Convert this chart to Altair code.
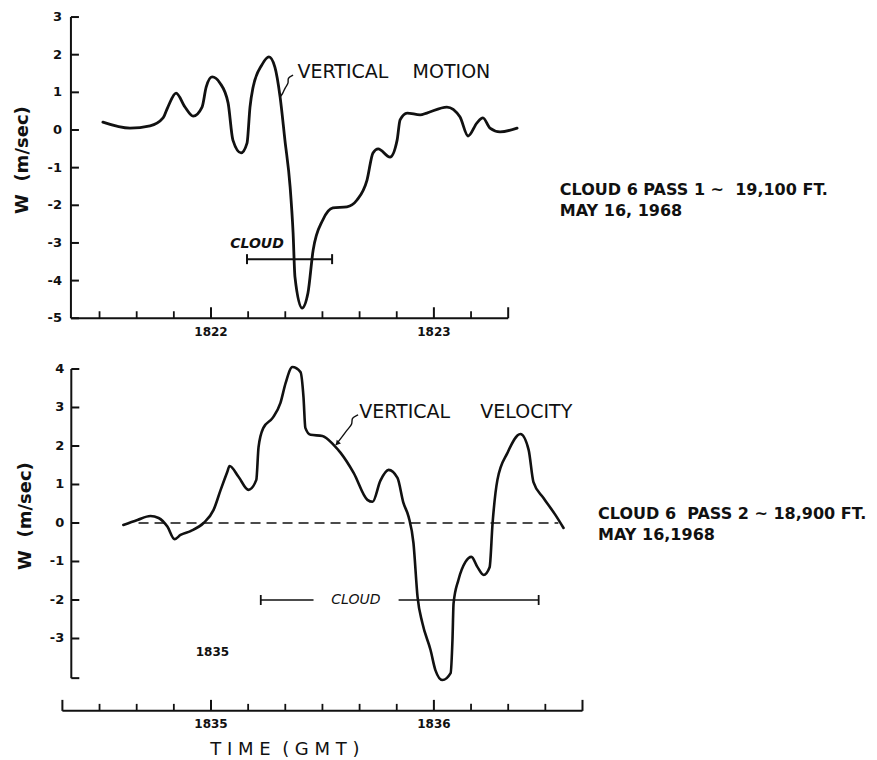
import altair as alt
import pandas as pd

# ---------------- data (seconds after the labelled minute, W in m/s) ----------------
TOP_T = [-29.1, -21.8, -16.4, -12.9, -11.6, -9.4, -7.0, -4.8, -2.4, -1.3, 0.3, 2.4, 4.6, 5.9, 8.1,
         9.7, 10.5, 11.3, 13.7, 15.6, 17.2, 18.6, 19.9, 21.3, 22.1, 22.6, 24.5, 26.1, 27.5, 30.1,
         32.8, 36.6, 39.3, 42.0, 43.6, 45.0, 48.2, 50.1, 50.9, 52.8, 56.3, 58.1, 63.5, 67.0, 69.2,
         71.6, 73.2, 75.1, 77.8, 82.4]
TOP_W = [0.21, 0.05, 0.11, 0.32, 0.61, 0.98, 0.61, 0.37, 0.61, 1.14, 1.41, 1.25, 0.72, -0.27, -0.61,
         -0.35, 0.61, 1.12, 1.73, 1.94, 1.67, 0.88, -0.27, -1.51, -2.73, -3.9, -4.73, -4.33, -3.19, -2.39,
         -2.07, -2.04, -1.86, -1.33, -0.61, -0.5, -0.72, -0.27, 0.27, 0.45, 0.40, 0.45, 0.61, 0.35, -0.16,
         0.19, 0.32, 0.05, -0.05, 0.05]

BOT_T = [-23.6, -19.8, -16.3, -14.1, -11.7, -9.8, -8.2, -5.5, -2.0, 0.7, 2.6, 4.4, 5.0, 7.4, 10.1,
         12.2, 12.8, 14.1, 16.6, 18.7, 20.1, 21.9, 24.1, 24.9, 25.4, 26.8, 30.0, 33.0, 34.9, 38.4,
         42.1, 43.5, 45.6, 47.8, 50.2, 51.8, 53.2, 54.5, 55.6, 56.9, 59.1, 60.4, 62.3, 64.5, 65.0,
         65.3, 66.6, 68.5, 70.1, 71.7, 73.4, 75.0, 75.8, 77.1, 79.8, 83.3, 85.5, 86.8, 89.5, 92.7, 94.9]
BOT_W = [-0.05, 0.08, 0.18, 0.13, -0.1, -0.42, -0.31, -0.21, 0.0, 0.34, 0.86, 1.33, 1.48, 1.2, 0.86,
         1.12, 1.97, 2.47, 2.73, 3.12, 3.64, 4.05, 3.92, 3.27, 2.47, 2.29, 2.26, 2.03, 1.82, 1.3,
         0.6, 0.55, 1.1, 1.38, 1.17, 0.52, 0.16, -0.52, -1.92, -2.6, -3.3, -3.82, -4.08, -3.9, -3.04,
         -2.08, -1.48, -1.01, -0.88, -1.14, -1.35, -1.15, 0.0, 1.12, 1.82, 2.31, 1.9, 1.06, 0.65, 0.21, -0.13]

# axes
TOP_YTICKS = [3, 2, 1, 0, -1, -2, -3, -4, -5]
BOT_YTICKS = [4, 3, 2, 1, 0, -1, -2, -3]
TOP_XTICKS = [-30, -20, -10, 10, 20, 30, 40, 50, 70]
TOP_XMAJOR = [0, 60]
TOP_XMAJOR_LABELS = ["1822", "1823"]
BOT_XTICKS = [-30, -20, -10, 10, 20, 30, 40, 50, 70, 80, 90]
BOT_XMAJOR = [0, 60]
BOT_XMAJOR_LABELS = ["1835", "1836"]
TOP_AXIS_X = [-37.7, 80]
TOP_AXIS_Y = [-5, 3]
BOT_YAXIS_X = -37.6
BOT_YAXIS_Y = [-4.03, 4]
BOT_XAXIS = [-40, 100]
BOT_XAXIS_Y = -4.88

# cloud bars
TOP_CLOUD = [9.7, 32.6]
TOP_CLOUD_W = -3.43
BOT_CLOUD_SEGS = [[13.4, 27.6], [50.5, 88.2]]
BOT_CLOUD_W = -2.0
BOT_ZERO = [-19.5, 93.5]

# leaders
TOP_LEAD_T = [22.1, 20.5, 21.0, 19.9, 19.4, 18.6]
TOP_LEAD_W = [1.46, 1.38, 1.25, 1.12, 0.98, 0.88]
BOT_LEAD_T = [39.6, 37.7, 38.2, 36.6, 35.5, 33.6]
BOT_LEAD_W = [2.81, 2.73, 2.57, 2.42, 2.26, 2.03]

NB = "\u00a0"
X_DOMAIN = [-54.64, 177.12]
TOP_Y_DOMAIN = [-5.79, 3.24]
BOT_Y_DOMAIN = [-6.156, 4.545]
W = 861
H_TOP = 340
H_BOT = 412
INK = "#111111"
FONT = "DejaVu Sans"


def sc(dom):
    return alt.Scale(domain=dom, nice=False, zero=False)


def X(f):
    return alt.X(f, type="quantitative", scale=sc(X_DOMAIN), axis=None)


def Xd(v):
    return alt.XDatum(v, type="quantitative", scale=sc(X_DOMAIN), axis=None)


def Y(f, dom):
    return alt.Y(f, type="quantitative", scale=sc(dom), axis=None)


def Yd(v, dom):
    return alt.YDatum(v, type="quantitative", scale=sc(dom), axis=None)


def text_layer(df, dom, **kw):
    base = dict(font=FONT, color=INK)
    base.update(kw)
    return alt.Chart(df).mark_text(**base).encode(x=X("x"), y=Y("y", dom), text="text:N")


# ================= TOP PANEL =================
td = TOP_Y_DOMAIN
top_curve = alt.Chart(pd.DataFrame({"t": TOP_T, "w": TOP_W})).mark_line(
    interpolate="monotone", color=INK, strokeWidth=2.8, strokeCap="round", strokeJoin="round"
).encode(x=X("t"), y=Y("w", td), order="t:Q")

top_frame = alt.Chart(pd.DataFrame({
    "x": [TOP_AXIS_X[0], TOP_AXIS_X[0]], "x2": [TOP_AXIS_X[0], TOP_AXIS_X[1]],
    "y": [TOP_AXIS_Y[0], TOP_AXIS_Y[0]], "y2": [TOP_AXIS_Y[1], TOP_AXIS_Y[0]]})
).mark_rule(color=INK, strokeWidth=2).encode(
    x=X("x"), x2=alt.X2("x2"), y=Y("y", td), y2=alt.Y2("y2"))

top_yt = alt.Chart(pd.DataFrame({"v": TOP_YTICKS})).mark_rule(
    color=INK, strokeWidth=2, x2Offset=8).encode(
    y=Y("v", td), x=Xd(TOP_AXIS_X[0]), x2=alt.X2Datum(TOP_AXIS_X[0]))

top_xt = alt.Chart(pd.DataFrame({"t": TOP_XTICKS})).mark_rule(
    color=INK, strokeWidth=1.8, y2Offset=-7).encode(
    x=X("t"), y=Yd(TOP_AXIS_Y[0], td), y2=alt.Y2Datum(TOP_AXIS_Y[0]))
top_xM = alt.Chart(pd.DataFrame({"t": TOP_XMAJOR + [TOP_AXIS_X[1]]})).mark_rule(
    color=INK, strokeWidth=2, y2Offset=-11).encode(
    x=X("t"), y=Yd(TOP_AXIS_Y[0], td), y2=alt.Y2Datum(TOP_AXIS_Y[0]))

top_ylab = alt.Chart(pd.DataFrame({"v": TOP_YTICKS, "lab": [str(v) for v in TOP_YTICKS]})).mark_text(
    font=FONT, fontSize=13, fontWeight="bold", color=INK, align="right", baseline="middle", dx=-9
).encode(y=Y("v", td), x=Xd(TOP_AXIS_X[0]), text="lab:N")

top_xlab = alt.Chart(pd.DataFrame({"t": TOP_XMAJOR, "lab": TOP_XMAJOR_LABELS})).mark_text(
    font=FONT, fontSize=12, fontWeight="bold", color=INK, align="center", baseline="middle", dy=14
).encode(x=X("t"), y=Yd(TOP_AXIS_Y[0], td), text="lab:N")

top_ytitle = text_layer(pd.DataFrame({"x": [-50.6], "y": [-0.80], "text": ["W" + NB * 2 + "(m/sec)"]}), td,
                        fontSize=18, fontWeight="bold", angle=270, align="center", baseline="middle")

top_cloud = alt.Chart(pd.DataFrame({"a": [TOP_CLOUD[0]], "b": [TOP_CLOUD[1]]})).mark_rule(
    color=INK, strokeWidth=2).encode(x=X("a"), x2=alt.X2("b"), y=Yd(TOP_CLOUD_W, td))
top_caps = alt.Chart(pd.DataFrame({"t": TOP_CLOUD})).mark_rule(
    color=INK, strokeWidth=2, yOffset=-5, y2Offset=5).encode(
    x=X("t"), y=Yd(TOP_CLOUD_W, td), y2=alt.Y2Datum(TOP_CLOUD_W))
top_cloud_txt = text_layer(pd.DataFrame({"x": [12.4], "y": [-3.03], "text": ["CLOUD"]}), td,
                           fontSize=14, fontStyle="italic", fontWeight="bold", align="center",
                           baseline="middle")

top_lead = alt.Chart(pd.DataFrame({"t": TOP_LEAD_T, "w": TOP_LEAD_W, "o": list(range(len(TOP_LEAD_T)))})).mark_line(
    interpolate="basis", color=INK, strokeWidth=1.4).encode(x=X("t"), y=Y("w", td), order="o:Q")
top_label = text_layer(pd.DataFrame({"x": [23.3], "y": [1.54], "text": ["VERTICAL" + NB * 4 + "MOTION"]}), td,
                       fontSize=19, align="left", baseline="middle")
top_note = text_layer(pd.DataFrame({"x": [93.9, 93.9], "y": [-1.59, -2.15],
                                    "text": ["CLOUD 6 PASS 1 ~" + NB * 2 + "19,100 FT.", "MAY 16, 1968"]}), td,
                      fontSize=16, fontWeight="bold", align="left", baseline="middle")

top = alt.layer(top_frame, top_yt, top_xt, top_xM, top_ylab, top_xlab, top_ytitle, top_cloud,
                top_caps, top_cloud_txt, top_lead, top_label, top_note, top_curve).properties(
    width=W, height=H_TOP)

# ================= BOTTOM PANEL =================
bd = BOT_Y_DOMAIN
bot_curve = alt.Chart(pd.DataFrame({"t": BOT_T, "w": BOT_W})).mark_line(
    interpolate="monotone", color=INK, strokeWidth=2.6, strokeCap="round", strokeJoin="round"
).encode(x=X("t"), y=Y("w", bd), order="t:Q")

bot_zero = alt.Chart(pd.DataFrame({"a": [BOT_ZERO[0]], "b": [BOT_ZERO[1]]})).mark_rule(
    color=INK, strokeWidth=1.4, strokeDash=[10, 6]).encode(x=X("a"), x2=alt.X2("b"), y=Yd(0, bd))

bot_yaxis = alt.Chart(pd.DataFrame({"y": [BOT_YAXIS_Y[0]], "y2": [BOT_YAXIS_Y[1]]})).mark_rule(
    color=INK, strokeWidth=2).encode(x=Xd(BOT_YAXIS_X), y=Y("y", bd), y2=alt.Y2("y2"))
bot_yt = alt.Chart(pd.DataFrame({"v": BOT_YTICKS + [BOT_YAXIS_Y[0]]})).mark_rule(
    color=INK, strokeWidth=2, x2Offset=8).encode(
    y=Y("v", bd), x=Xd(BOT_YAXIS_X), x2=alt.X2Datum(BOT_YAXIS_X))
bot_xaxis = alt.Chart(pd.DataFrame({"a": [BOT_XAXIS[0]], "b": [BOT_XAXIS[1]]})).mark_rule(
    color=INK, strokeWidth=2).encode(x=X("a"), x2=alt.X2("b"), y=Yd(BOT_XAXIS_Y, bd))
bot_xt = alt.Chart(pd.DataFrame({"t": BOT_XTICKS})).mark_rule(
    color=INK, strokeWidth=1.8, y2Offset=-7).encode(
    x=X("t"), y=Yd(BOT_XAXIS_Y, bd), y2=alt.Y2Datum(BOT_XAXIS_Y))
bot_xM = alt.Chart(pd.DataFrame({"t": BOT_XMAJOR + BOT_XAXIS})).mark_rule(
    color=INK, strokeWidth=2, y2Offset=-11).encode(
    x=X("t"), y=Yd(BOT_XAXIS_Y, bd), y2=alt.Y2Datum(BOT_XAXIS_Y))

bot_ylab = alt.Chart(pd.DataFrame({"v": BOT_YTICKS, "lab": [str(v) for v in BOT_YTICKS]})).mark_text(
    font=FONT, fontSize=13, fontWeight="bold", color=INK, align="right", baseline="middle", dx=-7
).encode(y=Y("v", bd), x=Xd(BOT_YAXIS_X), text="lab:N")
bot_xlab = alt.Chart(pd.DataFrame({"t": BOT_XMAJOR, "lab": BOT_XMAJOR_LABELS})).mark_text(
    font=FONT, fontSize=12, fontWeight="bold", color=INK, align="center", baseline="middle", dy=13
).encode(x=X("t"), y=Yd(BOT_XAXIS_Y, bd), text="lab:N")
bot_stray = text_layer(pd.DataFrame({"x": [0.4], "y": [-3.35], "text": ["1835"]}), bd,
                       fontSize=12, fontWeight="bold", align="center", baseline="middle")

bot_ytitle = text_layer(pd.DataFrame({"x": [-49.8], "y": [0.18], "text": ["W" + NB * 2 + "(m/sec)"]}), bd,
                        fontSize=18, fontWeight="bold", angle=270, align="center", baseline="middle")
bot_xtitle = text_layer(pd.DataFrame({"x": [19.9], "y": [-5.9],
                                      "text": ["T I M E" + NB * 2 + "( G M T )"]}), bd,
                        fontSize=18, align="center", baseline="middle")

bot_cloud = alt.Chart(pd.DataFrame({"a": [s[0] for s in BOT_CLOUD_SEGS],
                                    "b": [s[1] for s in BOT_CLOUD_SEGS]})).mark_rule(
    color=INK, strokeWidth=1.6).encode(x=X("a"), x2=alt.X2("b"), y=Yd(BOT_CLOUD_W, bd))
bot_caps = alt.Chart(pd.DataFrame({"t": [BOT_CLOUD_SEGS[0][0], BOT_CLOUD_SEGS[1][1]]})).mark_rule(
    color=INK, strokeWidth=1.8, yOffset=-5, y2Offset=5).encode(
    x=X("t"), y=Yd(BOT_CLOUD_W, bd), y2=alt.Y2Datum(BOT_CLOUD_W))
bot_cloud_txt = text_layer(pd.DataFrame({"x": [39.0], "y": [BOT_CLOUD_W], "text": ["CLOUD"]}), bd,
                           fontSize=14, fontStyle="italic", align="center", baseline="middle")

bot_lead = alt.Chart(pd.DataFrame({"t": BOT_LEAD_T, "w": BOT_LEAD_W, "o": list(range(len(BOT_LEAD_T)))})).mark_line(
    interpolate="basis", color=INK, strokeWidth=1.4).encode(x=X("t"), y=Y("w", bd), order="o:Q")
bot_arrow = alt.Chart(pd.DataFrame({"t": [BOT_LEAD_T[-1]], "w": [BOT_LEAD_W[-1]]})).mark_point(
    shape="triangle", filled=True, size=30, angle=220, color=INK, opacity=1, yOffset=-2, xOffset=2
).encode(x=X("t"), y=Y("w", bd))
bot_label = text_layer(pd.DataFrame({"x": [39.9], "y": [2.88],
                                     "text": ["VERTICAL" + NB * 5 + "VELOCITY"]}), bd,
                       fontSize=19, align="left", baseline="middle")
bot_note = text_layer(pd.DataFrame({"x": [104.2, 104.2], "y": [0.23, -0.31],
                                    "text": ["CLOUD 6" + NB * 2 + "PASS 2 ~ 18,900 FT.", "MAY 16,1968"]}), bd,
                      fontSize=16, fontWeight="bold", align="left", baseline="middle")

bot = alt.layer(bot_zero, bot_yaxis, bot_yt, bot_xaxis, bot_xt, bot_xM, bot_ylab, bot_xlab,
                bot_stray, bot_ytitle, bot_xtitle, bot_cloud, bot_caps, bot_cloud_txt, bot_lead,
                bot_arrow, bot_label, bot_note, bot_curve).properties(width=W, height=H_BOT)

chart = alt.vconcat(top, bot, spacing=0).properties(
    padding=0, background="white"
).configure_view(strokeWidth=0)

chart.save("out.html", embed_options={"renderer": "svg", "actions": False})
